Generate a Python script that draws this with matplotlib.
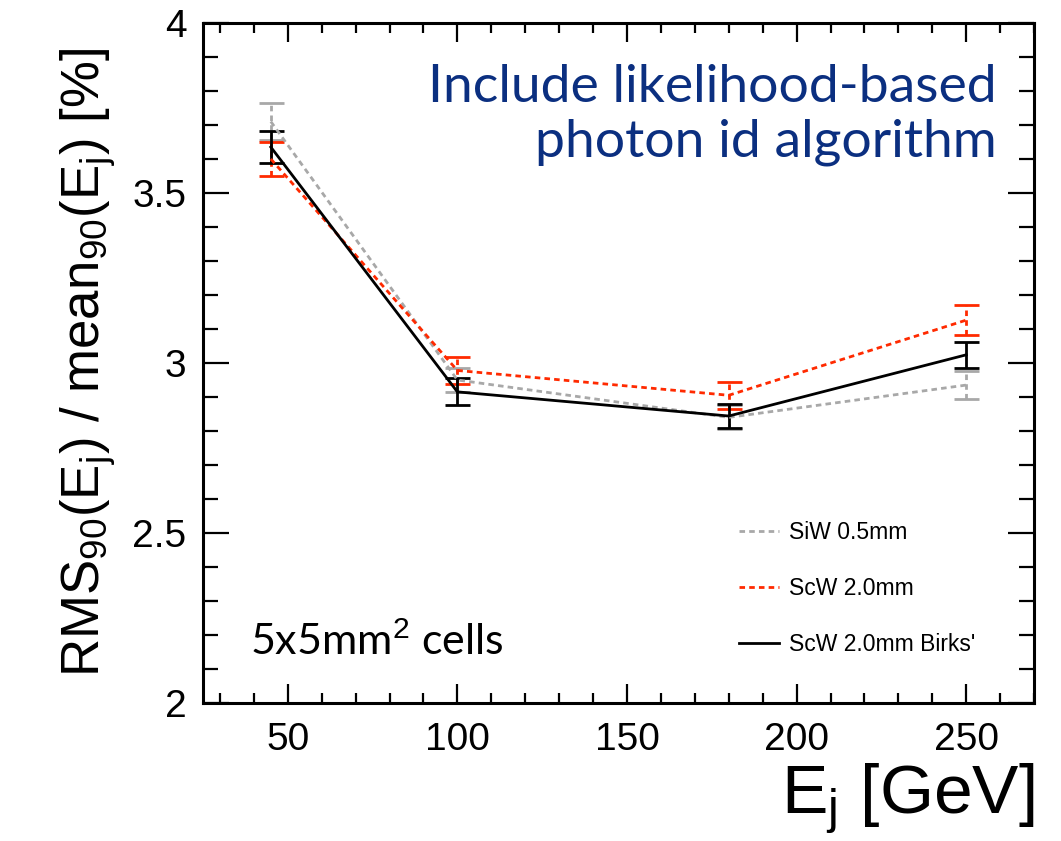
import numpy as np
import matplotlib.pyplot as plt
from matplotlib.lines import Line2D
from matplotlib.ticker import MultipleLocator

plt.rcParams['font.family'] = ['Liberation Sans', 'DejaVu Sans']
plt.rcParams['mathtext.fontset'] = 'custom'
plt.rcParams['mathtext.rm'] = 'Liberation Sans'
plt.rcParams['mathtext.it'] = 'Liberation Sans'

# beam energies (GeV)
energy = [45, 100, 180, 250]

# resolution values (%) and errors
siw_05 = [3.71, 2.95, 2.84, 2.935]
siw_05_err = [0.055, 0.035, 0.035, 0.04]
scw_20 = [3.60, 2.978, 2.905, 3.126]
scw_20_err = [0.05, 0.04, 0.04, 0.045]
scw_birks = [3.635, 2.915, 2.844, 3.024]
scw_birks_err = [0.047, 0.04, 0.036, 0.039]

labels = ["SiW 0.5mm", "ScW 2.0mm", "ScW 2.0mm Birks'"]

fig = plt.figure(figsize=(10.61, 8.41), dpi=100)
ax = fig.add_axes([0.1913, 0.1641, 0.7833, 0.8086])

dotted = (0, (2, 1.5))

def draw(y, err, color, ls):
    line, caps, bars = ax.errorbar(energy, y, yerr=err, color=color, lw=2.0,
                                   ls=ls, capsize=9, capthick=2.0,
                                   elinewidth=2.0)
    for b in bars:
        b.set_linestyle(ls)
    # legend entry is just the line
    return Line2D([], [], color=color, lw=2.0, ls=ls)

handles = [
    draw(siw_05, siw_05_err, '#a8a8a8', dotted),
    draw(scw_20, scw_20_err, '#ff2a00', dotted),
    draw(scw_birks, scw_birks_err, 'black', '-'),
]

ax.set_xlim(25, 270)
ax.set_ylim(2, 4)
ax.xaxis.set_major_locator(MultipleLocator(50))
ax.xaxis.set_minor_locator(MultipleLocator(10))
ax.yaxis.set_major_locator(MultipleLocator(0.5))
ax.yaxis.set_minor_locator(MultipleLocator(0.1))
ax.yaxis.set_major_formatter(plt.FuncFormatter(lambda v, p: f"{v:g}"))

for s in ax.spines.values():
    s.set_linewidth(2.2)
ax.tick_params(axis='both', which='both', direction='in', top=True, right=True, width=1.6)
ax.tick_params(axis='x', which='major', length=14, labelsize=28, pad=14)
ax.tick_params(axis='x', which='minor', length=7)
ax.tick_params(axis='y', which='major', length=19, labelsize=28, pad=12)
ax.tick_params(axis='y', which='minor', length=11)

ax.set_xlabel(r"E$_{\mathrm{j}}$ [GeV]", fontsize=50, loc='right', labelpad=2)
ax.set_ylabel(r"RMS$_{90}$(E$_{\mathrm{j}}$) / mean$_{90}$(E$_{\mathrm{j}}$) [%]",
              fontsize=38, labelpad=10)

ax.legend(handles, labels, loc='upper left', bbox_to_anchor=(0.645, 0.268),
          frameon=False, fontsize=16.5, handlelength=1.75, labelspacing=1.45,
          handletextpad=0.45, borderpad=0, borderaxespad=0)

ax.text(0.955, 0.94, "Include likelihood-based\nphoton id algorithm",
        transform=ax.transAxes, ha='right', va='top', fontsize=38.5,
        color='#0b2f80', family='Lato', linespacing=1.2)
ax.text(0.056, 0.06, r"5x5mm$^{2}$ cells", transform=ax.transAxes,
        ha='left', va='bottom', fontsize=31, family='Lato')

fig.savefig("out.png", dpi=100)
